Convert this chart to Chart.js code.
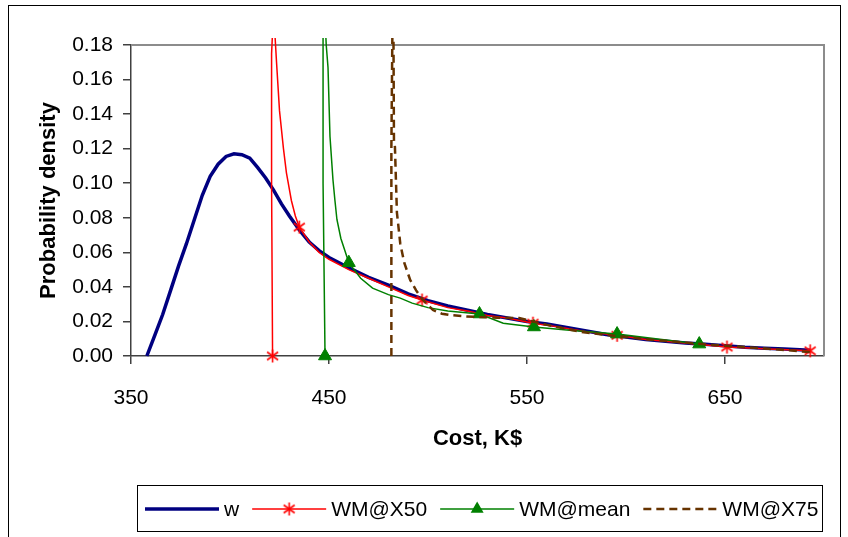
<!DOCTYPE html>
<html>
<head>
<meta charset="utf-8">
<script src="https://cdn.jsdelivr.net/npm/chart.js@4.4.1/dist/chart.umd.min.js"></script>
<style>
  html, body { margin: 0; padding: 0; background: #fff; }
  #wrap { width: 848px; height: 537px; }
</style>
</head>
<body>
<div id="wrap"><canvas id="chart" width="848" height="537"></canvas></div>
<script>
// values: cost in K$ vs probability density
const wCost = [358, 362, 366, 370, 374, 378, 382, 386, 390, 394, 398, 402, 406, 410, 414, 418, 422, 426, 430, 435, 440, 445, 450, 460, 470, 480, 490, 500, 510, 520, 530, 540, 550, 560, 570, 580, 590, 600, 610, 620, 630, 640, 650, 660, 670, 680, 693];
const wDensity = [0, 0.012, 0.024, 0.038, 0.052, 0.065, 0.079, 0.093, 0.104, 0.111, 0.1155, 0.117, 0.1165, 0.1145, 0.109, 0.103, 0.096, 0.088, 0.081, 0.073, 0.066, 0.061, 0.057, 0.051, 0.0455, 0.041, 0.036, 0.032, 0.029, 0.0265, 0.024, 0.022, 0.020, 0.0185, 0.0165, 0.0145, 0.0125, 0.011, 0.0095, 0.0085, 0.0075, 0.0068, 0.006, 0.005, 0.0045, 0.004, 0.0033];

const x50Cost = [421.5, 421, 421, 422, 423.5, 425, 427, 428.5, 431, 433, 435, 440, 445, 450, 460, 470, 480, 490, 497, 510, 520, 530, 540, 553, 565, 580, 595.5, 610, 630, 651, 670, 693];
const x50Density = [0, 0.10, 0.175, 0.20, 0.17, 0.142, 0.12, 0.106, 0.090, 0.081, 0.0746, 0.066, 0.060, 0.056, 0.050, 0.045, 0.040, 0.035, 0.0324, 0.028, 0.026, 0.0235, 0.022, 0.019, 0.017, 0.014, 0.012, 0.0095, 0.0075, 0.0052, 0.0042, 0.003];
const x50Marked = [421.5, 435, 497, 553, 595.5, 651, 693];

const meanCost = [448, 447, 447, 447.8, 448.6, 449.5, 450.5, 452, 453, 454, 456, 458, 460, 466, 472, 480, 486, 492, 500, 510, 526, 538, 553.5, 570, 595.5, 615, 637];
const meanDensity = [0, 0.10, 0.185, 0.20, 0.18, 0.167, 0.127, 0.102, 0.090, 0.079, 0.068, 0.061, 0.054, 0.045, 0.0393, 0.0355, 0.0335, 0.0306, 0.028, 0.026, 0.0243, 0.019, 0.0168, 0.015, 0.0127, 0.010, 0.0069];
const meanMarked = [448, 460, 526, 553.5, 595.5, 637];

const x75Cost = [481.5, 481.5, 482, 482.5, 482.8, 483.3, 484.3, 486, 488, 491, 494, 497, 502.5, 507, 511, 518, 526, 535, 546, 560, 577, 595, 615, 644, 665, 693];
const x75Density = [0, 0.12, 0.185, 0.20, 0.125, 0.121, 0.083, 0.065, 0.054, 0.044, 0.038, 0.033, 0.0266, 0.0245, 0.0237, 0.023, 0.0225, 0.0222, 0.022, 0.018, 0.014, 0.0115, 0.0092, 0.0064, 0.0048, 0.0023];

const seriesNames = ['w', 'WM@X50', 'WM@mean', 'WM@X75'];
const xTicks = [350, 450, 550, 650];
const yTicks = [0, 0.02, 0.04, 0.06, 0.08, 0.10, 0.12, 0.14, 0.16, 0.18];

const FONT = "'Liberation Sans', Arial, sans-serif";

function toPoints(xs, ys) {
    return xs.map((x, i) => ({ x: x, y: ys[i] }));
}

// excel style asterisk marker
function starMarker(color) {
    const c = document.createElement('canvas');
    c.width = 15;
    c.height = 15;
    const g = c.getContext('2d');
    g.strokeStyle = color;
    g.lineWidth = 1.6;
    g.beginPath();
    g.moveTo(7.5, 1); g.lineTo(7.5, 14);
    g.moveTo(2, 3.5); g.lineTo(13, 11.5);
    g.moveTo(13, 3.5); g.lineTo(2, 11.5);
    g.stroke();
    return c;
}
const redStar = starMarker('#ff0000');

function markedOnly(list, r) {
    return ctx => (ctx.raw && list.includes(ctx.raw.x)) ? r : 0;
}

const overflow = { left: 10, top: 7, right: 10, bottom: 10 };

const data = {
    datasets: [{
        label: seriesNames[0],
        data: toPoints(wCost, wDensity),
        borderColor: '#000080',
        borderWidth: 3.5,
        pointRadius: 0,
        order: 4
    }, {
        label: seriesNames[1],
        data: toPoints(x50Cost, x50Density),
        borderColor: '#ff0000',
        borderWidth: 1.5,
        pointStyle: redStar,
        pointRadius: markedOnly(x50Marked, 6),
        order: 3
    }, {
        label: seriesNames[2],
        data: toPoints(meanCost, meanDensity),
        borderColor: '#008000',
        backgroundColor: '#008000',
        borderWidth: 1.5,
        pointStyle: 'triangle',
        pointBorderWidth: 1,
        pointRadius: markedOnly(meanMarked, 7.5),
        order: 2
    }, {
        label: seriesNames[3],
        data: toPoints(x75Cost, x75Density),
        borderColor: '#663300',
        borderWidth: 2.5,
        borderDash: [8, 5],
        pointRadius: 0,
        order: 1
    }]
};
data.datasets.forEach(ds => {
    ds.showLine = true;
    ds.tension = 0;
    ds.clip = overflow;
});

// white page, outer frame and the grey top/right edge of the plot
const framePlugin = {
    id: 'frame',
    beforeDraw(chart) {
        const ctx = chart.ctx;
        ctx.save();
        ctx.fillStyle = '#fff';
        ctx.fillRect(0, 0, chart.width, chart.height);
        ctx.restore();
    },
    beforeDatasetsDraw(chart) {
        const a = chart.chartArea;
        const ctx = chart.ctx;
        ctx.save();
        ctx.strokeStyle = '#8c8c8c';
        ctx.lineWidth = 2;
        ctx.beginPath();
        ctx.moveTo(a.left, a.top);
        ctx.lineTo(a.right, a.top);
        ctx.lineTo(a.right, a.bottom);
        ctx.stroke();
        ctx.restore();
    },
    afterDraw(chart) {
        const ctx = chart.ctx;
        ctx.save();
        ctx.strokeStyle = '#000';
        ctx.lineWidth = 1;
        ctx.strokeRect(8.5, 5.5, 832, 560);
        ctx.restore();
    }
};

// legend box along the bottom, drawn by hand like excel's
const legendPlugin = {
    id: 'xlLegend',
    afterDraw(chart) {
        const ctx = chart.ctx;
        ctx.save();
        ctx.strokeStyle = '#000';
        ctx.lineWidth = 1;
        ctx.strokeRect(137.5, 485.5, 685, 46);
        ctx.font = '21px ' + FONT;
        ctx.textBaseline = 'middle';
        const cy = 509;
        let x = 145;
        chart.data.datasets.forEach((ds, i) => {
            ctx.save();
            ctx.strokeStyle = ds.borderColor;
            ctx.lineWidth = ds.borderWidth;
            ctx.setLineDash(ds.borderDash || []);
            ctx.beginPath();
            ctx.moveTo(x, cy);
            ctx.lineTo(x + 74, cy);
            ctx.stroke();
            ctx.restore();
            if (i === 1) {
                ctx.drawImage(redStar, x + 37 - 7.5, cy - 7.5);
            } else if (i === 2) {
                const r = 7.5;
                ctx.fillStyle = '#008000';
                ctx.beginPath();
                ctx.moveTo(x + 37, cy - r);
                ctx.lineTo(x + 37 + r * 0.866, cy + r * 0.5);
                ctx.lineTo(x + 37 - r * 0.866, cy + r * 0.5);
                ctx.closePath();
                ctx.fill();
            }
            ctx.fillStyle = '#000';
            ctx.fillText(ds.label, x + 79, cy + 1);
            x += 79 + ctx.measureText(ds.label).width + 13;
        });
        ctx.restore();
    }
};

const config = {
    type: 'scatter',
    data: data,
    plugins: [framePlugin, legendPlugin],
    options: {
        responsive: false,
        animation: false,
        devicePixelRatio: 1,
        events: [],
        layout: {
            padding: { left: 32, top: 45, right: 24, bottom: 81 }
        },
        plugins: {
            legend: { display: false },
            tooltip: { enabled: false }
        },
        scales: {
            x: {
                type: 'linear',
                min: 350,
                max: 700,
                afterBuildTicks: s => { s.ticks = xTicks.map(v => ({ value: v })); },
                afterFit: s => { s.height = 100; },
                ticks: {
                    font: { family: FONT, size: 21 },
                    color: '#000',
                    padding: 22,
                    maxRotation: 0,
                    autoSkip: false
                },
                grid: { drawOnChartArea: false, tickLength: 8, color: '#404040', lineWidth: 1.5 },
                border: { color: '#404040', width: 1.5 },
                title: {
                    display: true,
                    text: 'Cost, K$',
                    color: '#000',
                    font: { family: FONT, size: 22, weight: 'bold' },
                    padding: { top: 4, bottom: 4 }
                }
            },
            y: {
                min: 0,
                max: 0.18,
                afterBuildTicks: s => { s.ticks = yTicks.map(v => ({ value: v })); },
                afterFit: s => { s.width = 99; },
                ticks: {
                    font: { family: FONT, size: 21 },
                    color: '#000',
                    padding: 10,
                    callback: v => Number(v).toFixed(2)
                },
                grid: { drawOnChartArea: false, tickLength: 8, color: '#404040', lineWidth: 1.5 },
                border: { color: '#404040', width: 1.5 },
                title: {
                    display: true,
                    text: 'Probability density',
                    color: '#000',
                    font: { family: FONT, size: 22, weight: 'bold' },
                    padding: { top: 4, bottom: 4 }
                }
            }
        }
    }
};

const myChart = new Chart(document.getElementById('chart'), config);
</script>
</body>
</html>
